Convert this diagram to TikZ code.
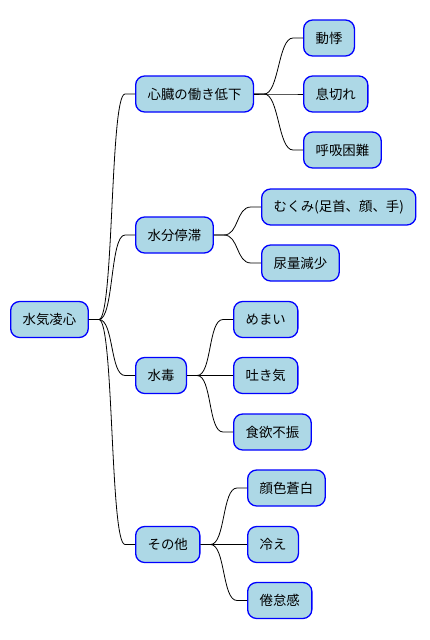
\documentclass[tikz,border=0pt]{standalone}
\usepackage{fontspec}
\setmainfont{Noto Sans CJK JP}
\definecolor{nodeblue}{HTML}{0000FF}
\definecolor{nodefill}{HTML}{ADD8E6}

\begin{document}
\begin{tikzpicture}[
    x=1pt, y=-1pt,
    topic/.style={rectangle, rounded corners=9pt, draw=nodeblue, fill=nodefill, line width=1.3pt, minimum height=36pt, inner xsep=12pt, anchor=west, font=\fontsize{13.4pt}{15pt}\selectfont},
    branch/.style={line width=0.8pt, to path={-- ++(10,0) .. controls +(15,0) and +(-15,0) .. ([xshift=-10pt]\tikztotarget) -- (\tikztotarget)}}
]
\useasboundingbox (0,0) rectangle (429,640);

% Root
\node[topic] at (10,319.5) (root) {水気凌心};

% Main branches
\node[topic] at (135,94) (heart) {心臓の働き低下};
\node[topic] at (135,235) (water) {水分停滞};
\node[topic] at (135,375.5) (poison) {水毒};
\node[topic] at (135,544.5) (other) {その他};

% Heart symptoms
\node[topic] at (303,38) (palp) {動悸};
\node[topic] at (303,94) (breath) {息切れ};
\node[topic] at (303,150) (dyspnea) {呼吸困難};

% Water retention
\node[topic] at (261,207) (edema) {むくみ(足首、顔、手)};
\node[topic] at (261,263) (urine) {尿量減少};

% Water poisoning
\node[topic] at (233,319.5) (dizzy) {めまい};
\node[topic] at (233,375.5) (nausea) {吐き気};
\node[topic] at (233,432) (appetite) {食欲不振};

% Others
\node[topic] at (247,488) (pale) {顔色蒼白};
\node[topic] at (247,544.5) (cold) {冷え};
\node[topic] at (247,600.5) (fatigue) {倦怠感};

% Connectors
\draw[branch] (root.east) to (heart.west);
\draw[branch] (root.east) to (water.west);
\draw[branch] (root.east) to (poison.west);
\draw[branch] (root.east) to (other.west);
\draw[branch] (heart.east) to (palp.west);
\draw[branch] (heart.east) to (breath.west);
\draw[branch] (heart.east) to (dyspnea.west);
\draw[branch] (water.east) to (edema.west);
\draw[branch] (water.east) to (urine.west);
\draw[branch] (poison.east) to (dizzy.west);
\draw[branch] (poison.east) to (nausea.west);
\draw[branch] (poison.east) to (appetite.west);
\draw[branch] (other.east) to (pale.west);
\draw[branch] (other.east) to (cold.west);
\draw[branch] (other.east) to (fatigue.west);

\end{tikzpicture}
\end{document}
